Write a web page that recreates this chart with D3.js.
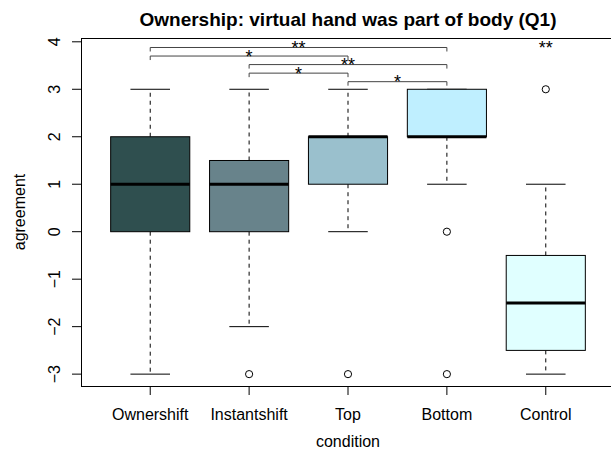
<!DOCTYPE html>
<html><head><meta charset="utf-8">
<script src="https://cdnjs.cloudflare.com/ajax/libs/d3/7.8.5/d3.min.js"></script>
<style>body{margin:0;background:#fff}svg{display:block;font-family:"Liberation Sans",Arial,Helvetica,sans-serif}</style>
</head><body><svg id="c" width="611" height="462"></svg>
<script>
const categories = ["Ownershift","Instantshift","Top","Bottom","Control"];
const whiskerLow  = [-3, -2, 0, 1, -3];
const q1          = [0, 0, 1, 2, -2.5];
const median      = [1, 1, 2, 2, -1.5];
const q3          = [2, 1.5, 2, 3, -0.5];
const whiskerHigh = [3, 3, 3, 3, 1];
const outliers    = [[], [-3], [-3], [0, -3], [3]];
const boxColors   = ["#2F4F4F", "#68838B", "#9AC0CD", "#BFEFFF", "#E0FFFF"];
const yTicks      = [-3, -2, -1, 0, 1, 2, 3, 4];
const compFrom    = [0, 0, 1, 1, 2];
const compTo      = [3, 2, 3, 2, 3];
const compLabel   = ["**", "*", "**", "*", "*"];
const compLevel   = [3.88, 3.70, 3.52, 3.34, 3.16];
const extraLabel  = {cat: 4, label: "**", level: 3.88};
const title = "Ownership: virtual hand was part of body (Q1)";
const xTitle = "condition", yTitle = "agreement";

const svg = d3.select("#c");
const L = 81, R = 615, T = 38, B = 386;
const x = d3.scaleLinear().domain([0.3, 5.7]).range([L, R]);
const y = d3.scaleLinear().domain([-3.25, 4.08]).range([B, T]);
const bw = x(1.4) - x(1);   // half box width
const cw = x(1.2) - x(1);   // half staple width

const g = svg.append("g");
categories.forEach((c, i) => {
  const cx = x(i + 1);
  const gg = g.append("g");
  gg.append("line").attr("x1", cx).attr("x2", cx).attr("y1", y(q3[i])).attr("y2", y(whiskerHigh[i]))
    .attr("stroke", "#000").attr("stroke-dasharray", "4,4").attr("stroke-width", 1);
  gg.append("line").attr("x1", cx).attr("x2", cx).attr("y1", y(q1[i])).attr("y2", y(whiskerLow[i]))
    .attr("stroke", "#000").attr("stroke-dasharray", "4,4").attr("stroke-width", 1);
  [whiskerHigh[i], whiskerLow[i]].forEach(v => {
    gg.append("line").attr("x1", cx - cw).attr("x2", cx + cw).attr("y1", y(v)).attr("y2", y(v))
      .attr("stroke", "#000").attr("stroke-width", 1);
  });
  gg.append("rect").attr("x", cx - bw).attr("width", 2 * bw)
    .attr("y", y(q3[i])).attr("height", y(q1[i]) - y(q3[i]))
    .attr("fill", boxColors[i]).attr("stroke", "#000").attr("stroke-width", 1);
  gg.append("line").attr("x1", cx - bw).attr("x2", cx + bw).attr("y1", y(median[i])).attr("y2", y(median[i]))
    .attr("stroke", "#000").attr("stroke-width", 3);
  outliers[i].forEach(v => {
    gg.append("circle").attr("cx", cx).attr("cy", y(v)).attr("r", 3.6)
      .attr("fill", "none").attr("stroke", "#000").attr("stroke-width", 1);
  });
});

svg.append("rect").attr("x", L + 0.5).attr("y", T + 0.5).attr("width", R - L).attr("height", B - T)
  .attr("fill", "none").attr("stroke", "#000").attr("stroke-width", 1);

const yAxis = svg.append("g");
yTicks.forEach(t => {
  yAxis.append("line").attr("x1", L - 9).attr("x2", L).attr("y1", y(t)).attr("y2", y(t)).attr("stroke", "#000");
  yAxis.append("text").attr("transform", `translate(${L - 21.5},${y(t)}) rotate(-90)`)
    .attr("text-anchor", "middle").attr("font-size", 16).text(t < 0 ? "\u2212" + Math.abs(t) : t);
});
const xAxis = svg.append("g");
categories.forEach((c, i) => {
  xAxis.append("line").attr("x1", x(i + 1)).attr("x2", x(i + 1)).attr("y1", B).attr("y2", B + 9).attr("stroke", "#000");
  xAxis.append("text").attr("x", x(i + 1)).attr("y", B + 34).attr("text-anchor", "middle")
    .attr("font-size", 16).text(c);
});

const sg = svg.append("g");
compFrom.forEach((a, k) => {
  const b = compTo[k];
  const yy = y(compLevel[k]);
  sg.append("path").attr("d", `M${x(a + 1)},${yy + 4}V${yy}H${x(b + 1)}V${yy + 4}`)
    .attr("fill", "none").attr("stroke", "#444").attr("stroke-width", 1);
  sg.append("text").attr("x", (x(a + 1) + x(b + 1)) / 2).attr("y", yy + 6.5)
    .attr("text-anchor", "middle").attr("font-size", 18).text(compLabel[k]);
});
sg.append("text").attr("x", x(extraLabel.cat + 1)).attr("y", y(extraLabel.level) + 6.5)
  .attr("text-anchor", "middle").attr("font-size", 18).text(extraLabel.label);

svg.append("text").attr("x", (L + R) / 2).attr("y", 26).attr("text-anchor", "middle")
  .attr("font-size", 19).attr("font-weight", "bold").text(title);
svg.append("text").attr("x", (L + R) / 2).attr("y", 447).attr("text-anchor", "middle")
  .attr("font-size", 16).text(xTitle);
svg.append("text").attr("transform", `translate(25,${(T + B) / 2}) rotate(-90)`)
  .attr("text-anchor", "middle").attr("font-size", 16).text(yTitle);
</script></body></html>
